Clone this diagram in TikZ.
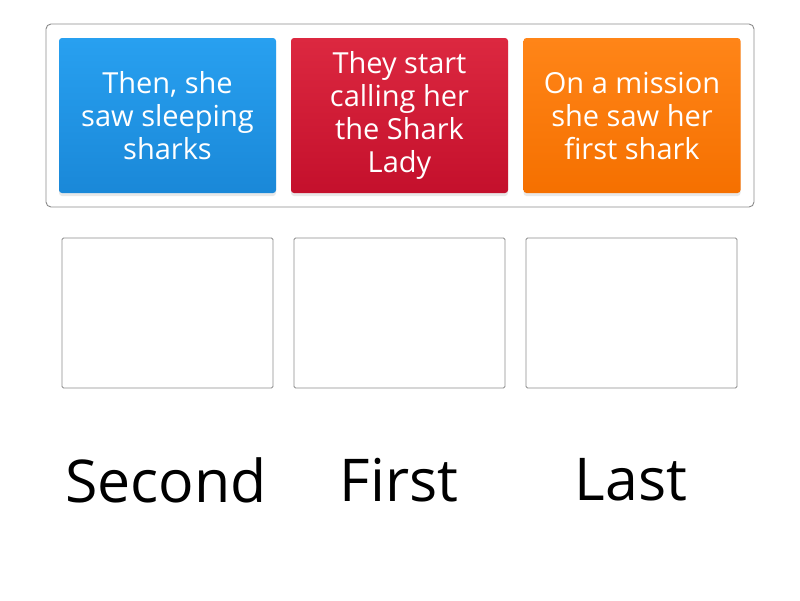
\documentclass[tikz,border=0pt]{standalone}
\usepackage{fontspec}
\setmainfont{Open Sans}
\usetikzlibrary{shadows}
\definecolor{cblueT}{HTML}{28A0F0}
\definecolor{cblueB}{HTML}{1A88D8}
\definecolor{credT}{HTML}{DC2840}
\definecolor{credB}{HTML}{C4102C}
\definecolor{coraT}{HTML}{FF8518}
\definecolor{coraB}{HTML}{F57000}
\definecolor{frame}{HTML}{8A8A8A}
\tikzset{
  card/.style={rounded corners=3pt, minimum width=217pt, minimum height=155pt, inner sep=0pt,
    text=white, align=center, font=\fontsize{29}{33}\selectfont,
    drop shadow={shadow xshift=0pt, shadow yshift=-3pt, opacity=0.18}},
  slot/.style={draw=frame, line width=0.9pt, rounded corners=1.5pt, minimum width=211pt, minimum height=150pt, inner sep=0pt},
  lbl/.style={font=\fontsize{59}{66}\selectfont, text=black, inner sep=0pt}
}
\begin{document}
\begin{tikzpicture}[x=1pt,y=-1pt]
\useasboundingbox (0,0) rectangle (800,600);
\node[draw=frame, line width=0.9pt, rounded corners=5pt, minimum width=708pt, minimum height=183pt, inner sep=0pt] (tray) at (400,115.5) {};
\node[card, top color=cblueT, bottom color=cblueB] (c1) at (167.5,115.5) {Then, she\\saw sleeping\\sharks};
\node[card, top color=credT, bottom color=credB] (c2) at (399.5,115.5) {They start\\calling her\\the Shark\\Lady};
\node[card, top color=coraT, bottom color=coraB] (c3) at (632,115.5) {On a mission\\she saw her\\first shark};
\node[slot] (s1) at (167.5,313) {};
\node[slot] (s2) at (399.5,313) {};
\node[slot] (s3) at (631.5,313) {};
\node[lbl] (l1) at (166,480) {Second};
\node[lbl] (l2) at (399,480) {First};
\node[lbl] (l3) at (631,480) {Last};
\end{tikzpicture}
\end{document}
